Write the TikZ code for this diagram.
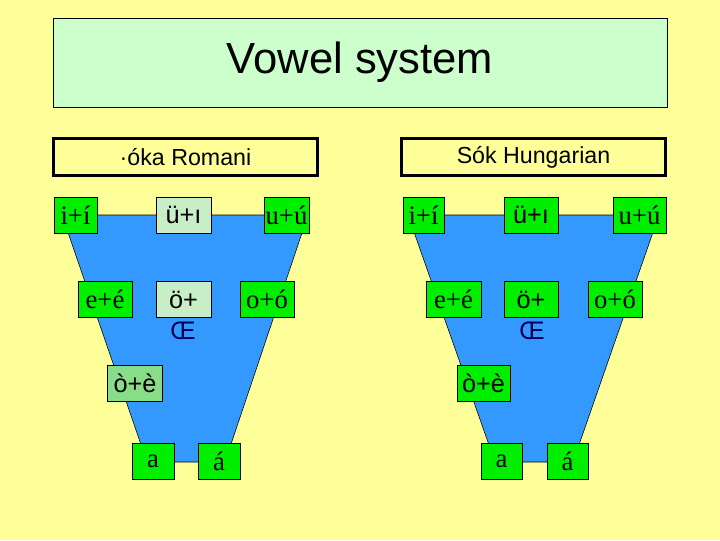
\documentclass[tikz,border=0pt]{standalone}
\usepackage{fontspec}
\setmainfont{Liberation Serif}
\setsansfont{Liberation Sans}
\usetikzlibrary{positioning}
\definecolor{SlideYellow}{HTML}{FFFF99}
\definecolor{TitleGreen}{HTML}{CCFFCC}
\definecolor{VowelBlue}{HTML}{3399FF}
\definecolor{VowelGreen}{HTML}{00EE00}
\definecolor{PaleGreen}{HTML}{C8EEC8}
\definecolor{MidGreen}{HTML}{88DD88}
\definecolor{OeBlue}{HTML}{000055}
\tikzset{
  titlebox/.style={draw=black, thin, fill=TitleGreen, minimum width=15.35cm, minimum height=2.225cm, font=\sffamily\fontsize{31}{36}\selectfont},
  langbox/.style={draw=black, line width=2pt, fill=SlideYellow, minimum width=6.6cm, minimum height=0.92cm, font=\sffamily\fontsize{16.5}{20}\selectfont},
  vowelbox/.style={draw=black, thin, fill=VowelGreen, inner sep=1pt, minimum width=#1, minimum height=0.89cm, font=\fontsize{19}{22}\selectfont},
  vowelbox/.default=1.35cm,
  palebox/.style={vowelbox=#1, fill=PaleGreen, font=\sffamily\fontsize{18}{22}\selectfont},
  palebox/.default=1.37cm,
  sansbox/.style={vowelbox=#1, font=\sffamily\fontsize{18}{22}\selectfont},
  sansbox/.default=1.35cm,
  oetext/.style={inner sep=0pt, text=OeBlue, font=\sffamily\fontsize{18}{22}\selectfont},
  trapez/.style={fill=VowelBlue, draw=black, thin}
}
\begin{document}
\begin{tikzpicture}[x=0.025cm, y=-0.025cm]
\fill[SlideYellow] (0,0) rectangle (720,540);
\useasboundingbox (0,0) rectangle (720,540);
\node[titlebox] (title) at (360,62.5) {Vowel system};
\node[langbox] (romani) at (185.5,157) {·óka Romani};
\node[langbox] (hungarian) at (533.5,157) {Sók Hungarian};
\draw[trapez] (62,215) -- (308,215) -- (225,462) -- (147,462) -- cycle;
\draw[trapez] (408,215) -- (659,215) -- (573,462) -- (495,462) -- cycle;
\node[vowelbox=1.075cm] (rI) at (75.5,215) {i+í};
\node[palebox] (rUe) at (183.5,215) {ü+ı};
\node[vowelbox=1.125cm] (rU) at (286.5,215) {u+ú};
\node[vowelbox] (rE) at (105,299.5) {e+é};
\node[palebox] (rOe) at (183.5,299.5) {ö+};
\node[oetext] (rOeB) at (183,331) {Œ};
\node[vowelbox] (rO) at (267,299.5) {o+ó};
\node[palebox, fill=MidGreen] (rOE) at (135,383.5) {ò+è};
\node[vowelbox=1.05cm] (rA) at (153,461) {a};
\node[vowelbox=1.05cm] (rAA) at (219,461) {á};
\node[vowelbox=1.025cm] (hI) at (423.5,215) {i+í};
\node[sansbox] (hUe) at (531,215) {ü+ı};
\node[vowelbox=1.325cm] (hU) at (639.5,215) {u+ú};
\node[vowelbox=1.375cm] (hE) at (453.5,299.5) {e+é};
\node[sansbox] (hOe) at (531,299.5) {ö+};
\node[oetext] (hOeB) at (532,331) {Œ};
\node[vowelbox] (hO) at (615,299.5) {o+ó};
\node[sansbox=1.325cm] (hOE) at (483.5,383.5) {ò+è};
\node[vowelbox=1.025cm] (hA) at (501.5,461) {a};
\node[vowelbox=1.025cm] (hAA) at (567.5,461) {á};
\end{tikzpicture}
\end{document}
